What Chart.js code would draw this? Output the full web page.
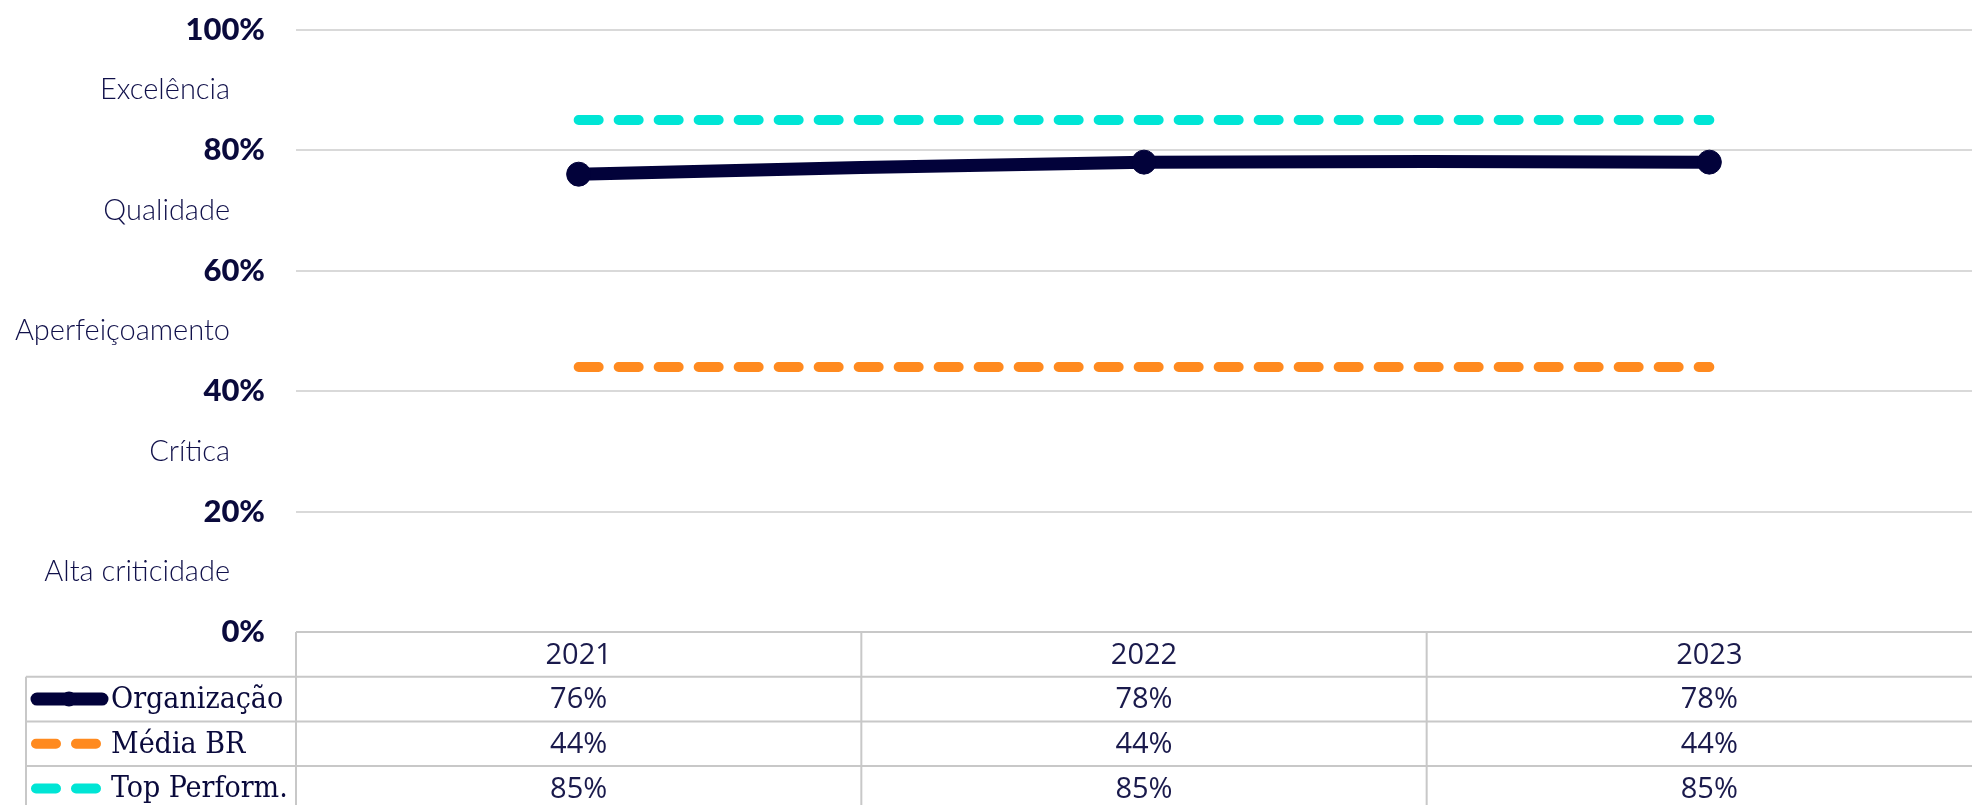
<!DOCTYPE html>
<html>
<head>
<meta charset="utf-8">
<script src="https://cdn.jsdelivr.net/npm/chart.js@4.4.1/dist/chart.umd.min.js"></script>
<style>
  html, body { margin: 0; padding: 0; background: #fff; overflow: hidden; }
  #wrap { width: 1972px; height: 805px; overflow: hidden; position: relative; }
  canvas { display: block; margin-top: -20px; }
</style>
</head>
<body>
<div id="wrap"><canvas id="chart" width="2005" height="825"></canvas></div>
<script>
const years = ['2021', '2022', '2023'];
const organizacao = [76, 78, 78];
const mediaBR = [44, 44, 44];
const topPerform = [85, 85, 85];
const seriesNames = ['Organização', 'Média BR', 'Top Perform.'];
const yTicks = [0, 20, 40, 60, 80, 100];
const bandLabels = ['Alta criticidade', 'Crítica', 'Aperfeiçoamento', 'Qualidade', 'Excelência'];
const bandMids = [10, 30, 50, 70, 90];

const NAVY = '#02023a';
const ORANGE = '#ff8a1f';
const CYAN = '#00e5d5';
const GRID = '#d9d9d9';
const TABLE_LINE = '#c8c8c8';

// band names between the percent ticks
const bandLabelsPlugin = {
  id: 'bandLabels',
  afterDraw(chart) {
    const ctx = chart.ctx;
    const y = chart.scales.y;
    ctx.save();
    ctx.font = '300 29px Lato, sans-serif';
    ctx.fillStyle = '#10104a';
    ctx.textAlign = 'right';
    ctx.textBaseline = 'middle';
    bandLabels.forEach((lbl, i) => {
      ctx.fillText(lbl, 230, y.getPixelForValue(bandMids[i]));
    });
    ctx.restore();
  }
};

// excel-like data table under the plot
const dataTablePlugin = {
  id: 'dataTable',
  afterDraw(chart) {
    const ctx = chart.ctx;
    const x = chart.scales.x;
    const area = chart.chartArea;
    const rowH = 44.7;
    const top = area.bottom;
    const legendLeft = 26;
    const colW = (area.right - area.left) / years.length;
    const rows = [organizacao, mediaBR, topPerform];

    ctx.save();
    ctx.strokeStyle = TABLE_LINE;
    ctx.lineWidth = 2;
    ctx.beginPath();
    ctx.moveTo(area.left, top);
    ctx.lineTo(chart.width, top);
    for (let r = 1; r <= rows.length + 1; r++) {
      ctx.moveTo(legendLeft, top + r * rowH);
      ctx.lineTo(chart.width, top + r * rowH);
    }
    ctx.moveTo(legendLeft, top + rowH);
    ctx.lineTo(legendLeft, top + (rows.length + 1) * rowH);
    for (let c = 0; c < years.length; c++) {
      const bx = area.left + c * colW;
      ctx.moveTo(bx, top);
      ctx.lineTo(bx, top + (rows.length + 1) * rowH);
    }
    ctx.stroke();

    ctx.fillStyle = '#1a1a4c';
    ctx.font = '29px "Open Sans", sans-serif';
    ctx.textAlign = 'center';
    ctx.textBaseline = 'middle';
    years.forEach((yr, i) => {
      ctx.fillText(yr, x.getPixelForValue(i), top + rowH / 2 + 1);
    });
    rows.forEach((vals, r) => {
      const cy = top + (r + 1.5) * rowH + 1;
      vals.forEach((v, i) => {
        ctx.fillText(v + '%', x.getPixelForValue(i), cy);
      });
    });

    // legend keys
    rows.forEach((vals, r) => {
      const cy = top + (r + 1.5) * rowH;
      ctx.lineCap = 'round';
      if (r === 0) {
        ctx.strokeStyle = NAVY;
        ctx.lineWidth = 13;
        ctx.beginPath();
        ctx.moveTo(37, cy);
        ctx.lineTo(102, cy);
        ctx.stroke();
        ctx.fillStyle = NAVY;
        ctx.beginPath();
        ctx.arc(69, cy, 7.5, 0, Math.PI * 2);
        ctx.fill();
      } else {
        ctx.strokeStyle = r === 1 ? ORANGE : CYAN;
        ctx.lineWidth = 10;
        ctx.beginPath();
        ctx.moveTo(36, cy);
        ctx.lineTo(56, cy);
        ctx.moveTo(76, cy);
        ctx.lineTo(96, cy);
        ctx.stroke();
      }
      ctx.fillStyle = '#0a0a3c';
      ctx.textAlign = 'left';
      ctx.font = '30px "DejaVu Serif Condensed", "DejaVu Serif", serif';
      ctx.fillText(seriesNames[r], 111, cy + 1);
    });
    ctx.restore();
  }
};

new Chart(document.getElementById('chart'), {
  type: 'line',
  data: {
    labels: years,
    datasets: [
      {
        label: seriesNames[0],
        data: organizacao,
        borderColor: NAVY,
        backgroundColor: NAVY,
        borderWidth: 13,
        pointRadius: 12,
        pointBorderWidth: 1,
        pointBackgroundColor: NAVY,
        tension: 0.25
      },
      {
        label: seriesNames[1],
        data: mediaBR,
        borderColor: ORANGE,
        borderWidth: 10,
        borderDash: [20, 20],
        borderCapStyle: 'round',
        pointRadius: 0
      },
      {
        label: seriesNames[2],
        data: topPerform,
        borderColor: CYAN,
        borderWidth: 10,
        borderDash: [20, 20],
        borderCapStyle: 'round',
        pointRadius: 0
      }
    ]
  },
  options: {
    responsive: false,
    animation: false,
    layout: { padding: { top: 12, bottom: 173, left: 0, right: 4 } },
    plugins: {
      legend: { display: false },
      tooltip: { enabled: false }
    },
    scales: {
      x: {
        type: 'category',
        display: false,
        offset: true
      },
      y: {
        min: 0,
        max: 100,
        afterBuildTicks: (scale) => { scale.ticks = yTicks.map(v => ({ value: v })); },
        afterFit: (scale) => { scale.width = 296; },
        border: { display: false },
        grid: {
          drawTicks: false,
          lineWidth: 2,
          color: (c) => (c.tick && c.tick.value === 0 ? 'rgba(0,0,0,0)' : GRID)
        },
        ticks: {
          padding: 31,
          color: '#0a0a3c',
          font: { family: 'Lato', size: 31, weight: 900 },
          callback: (v) => v + '%'
        }
      }
    }
  },
  plugins: [bandLabelsPlugin, dataTablePlugin]
});
</script>
</body>
</html>
